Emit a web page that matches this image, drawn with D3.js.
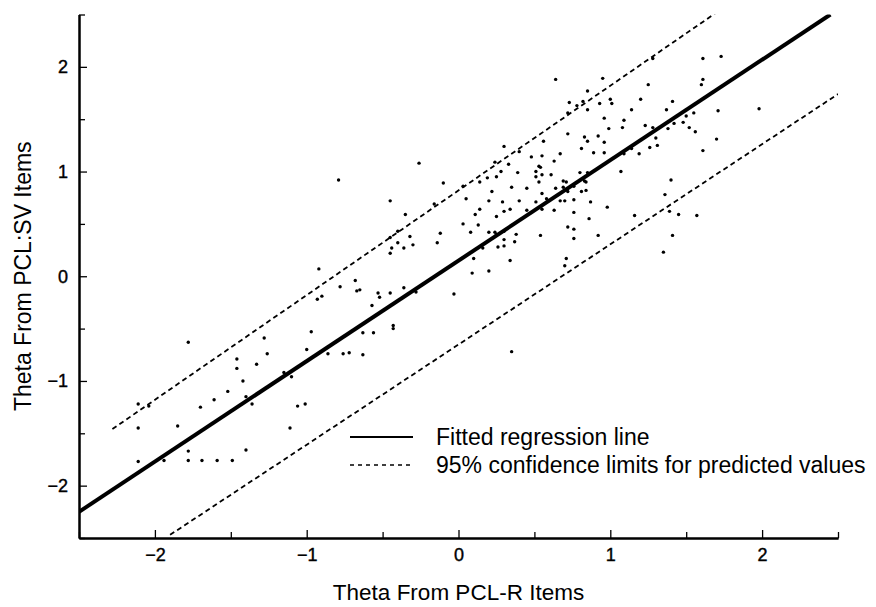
<!DOCTYPE html>
<html>
<head>
<meta charset="utf-8">
<script src="https://cdn.jsdelivr.net/npm/d3@7"></script>
<style>
  body { margin: 0; background: #fff; }
  svg text { font-family: "Liberation Sans", Arial, sans-serif; fill: #000; }
</style>
</head>
<body>
<div id="chart"></div>
<script>
// Scatter values (theta from PCL-R items, theta from PCL:SV items)
const thetaR = [
  -1.78,-1.28,-1.26,-1.46,-1.46,-1.33,-1.15,-1.10,-1.42,-1.52,-1.40,-1.61,-1.36,-1.70,-2.11,-2.04,-1.06,-1.01,-2.11,-1.85,
  -1.11,-1.78,-1.40,-2.11,-1.94,-1.78,-1.69,-1.59,-1.49,-0.57,-0.43,-0.43,-0.97,-0.63,-0.56,-1.00,-0.86,-0.76,-0.72,-0.63,
  0.35,-0.26,-0.79,-0.45,-0.35,-0.16,-0.40,-0.45,-0.32,-0.40,-0.44,-0.45,-0.36,-0.30,-0.14,-0.12,-0.92,-0.78,-0.68,-0.67,
  -0.65,-0.93,-0.90,-0.53,-0.52,-0.45,-0.36,-0.28,-0.03,0.64,0.85,0.73,0.78,0.82,0.85,0.72,0.72,0.83,0.85,0.81,
  0.30,0.40,0.56,0.48,0.55,0.67,0.63,0.24,0.33,0.28,0.39,0.53,0.54,0.51,0.55,0.51,0.61,0.14,0.19,0.25,
  0.03,-0.10,0.35,0.45,0.53,0.64,0.69,0.71,0.80,0.85,0.76,0.84,0.22,0.05,0.55,0.69,0.72,0.81,0.84,0.20,
  0.29,0.40,0.51,0.58,0.67,0.70,0.76,0.14,0.11,0.25,0.30,0.34,0.45,0.55,0.63,0.76,0.86,0.03,0.13,0.08,
  0.20,0.24,0.25,0.30,0.38,0.54,0.72,0.76,0.76,0.30,0.37,0.26,0.30,0.16,0.10,0.34,0.71,0.70,0.09,0.20,
  0.87,0.83,1.73,1.61,1.28,0.95,1.61,1.60,1.25,0.93,1.00,1.01,1.20,1.41,1.14,1.37,1.71,0.96,1.09,1.50,
  1.55,1.23,1.42,1.48,0.99,1.08,1.28,1.38,1.52,1.56,0.92,0.96,1.30,0.89,0.96,1.09,1.14,1.19,1.26,1.31,
  1.70,1.61,1.07,1.40,1.36,1.98,0.98,1.16,1.39,1.45,1.57,0.92,1.41,1.35
];
const thetaSV = [
  -0.63,-0.59,-0.74,-0.79,-0.88,-0.84,-0.92,-0.96,-1.00,-1.10,-1.15,-1.18,-1.22,-1.25,-1.22,-1.24,-1.24,-1.22,-1.45,-1.43,
  -1.45,-1.67,-1.66,-1.77,-1.76,-1.76,-1.76,-1.76,-1.76,-0.28,-0.47,-0.50,-0.53,-0.54,-0.54,-0.70,-0.74,-0.74,-0.73,-0.75,
  -0.72,1.08,0.92,0.72,0.59,0.69,0.43,0.37,0.38,0.32,0.27,0.22,0.27,0.30,0.32,0.41,0.07,-0.10,-0.04,-0.14,
  -0.13,-0.22,-0.19,-0.16,-0.20,-0.16,-0.11,-0.15,-0.17,1.88,1.77,1.66,1.63,1.67,1.59,1.56,1.36,1.33,1.29,1.22,
  1.24,1.19,1.29,1.14,1.15,1.17,1.10,1.09,1.07,1.00,0.99,1.05,1.04,1.00,0.97,0.95,0.97,0.90,0.94,0.95,
  0.86,0.89,0.85,0.84,0.90,0.84,0.91,0.90,0.99,0.99,0.86,0.90,0.81,0.74,0.79,0.85,0.81,0.81,0.82,0.72,
  0.71,0.72,0.71,0.74,0.72,0.72,0.73,0.64,0.59,0.57,0.62,0.64,0.63,0.64,0.63,0.61,0.55,0.50,0.49,0.42,
  0.42,0.42,0.40,0.43,0.40,0.39,0.47,0.45,0.36,0.35,0.33,0.28,0.29,0.27,0.17,0.15,0.17,0.10,0.03,0.05,
  0.71,0.91,2.10,2.08,2.08,1.89,1.88,1.83,1.83,1.65,1.69,1.65,1.69,1.67,1.59,1.59,1.58,1.51,1.49,1.53,
  1.56,1.44,1.46,1.47,1.41,1.42,1.42,1.41,1.42,1.38,1.34,1.28,1.32,1.18,1.18,1.17,1.22,1.17,1.23,1.25,
  1.31,1.20,1.00,0.92,0.78,1.60,0.66,0.58,0.62,0.59,0.58,0.39,0.39,0.23
];

// Fitted regression line and 95% limits (end points)
const fitLine = [[-2.5, -2.25], [2.45, 2.50]];
const upperLimit = [[-2.28, -1.46], [1.69, 2.51]];
const lowerLimit = [[-1.90, -2.47], [2.50, 1.74]];

const majorTicks = [-2, -1, 0, 1, 2];
const minorTicks = [-2.5, -1.5, -0.5, 0.5, 1.5, 2.5];

const legendItems = [
  { label: "Fitted regression line", dash: null },
  { label: "95% confidence limits for predicted values", dash: "4,4" }
];

const margin = { top: 14.5, right: 38, bottom: 69, left: 79 },
    width = 876 - margin.left - margin.right,
    height = 607 - margin.top - margin.bottom;

const svg = d3.select("#chart").append("svg")
    .attr("width", 876)
    .attr("height", 607)
    .append("g")
    .attr("transform", `translate(${margin.left},${margin.top})`);

const x = d3.scaleLinear().domain([-2.5, 2.5]).range([0, width]);
const y = d3.scaleLinear().domain([-2.5, 2.5]).range([height, 0]);

svg.append("clipPath").attr("id", "plot-clip")
    .append("rect").attr("width", width).attr("height", height);

const plot = svg.append("g").attr("clip-path", "url(#plot-clip)");

const line = d3.line().x(d => x(d[0])).y(d => y(d[1]));

// Confidence limits
[upperLimit, lowerLimit].forEach(seg => {
  plot.append("path")
      .datum(seg)
      .attr("d", line)
      .attr("fill", "none")
      .attr("stroke", "#000")
      .attr("stroke-width", 1.8)
      .attr("stroke-dasharray", "5,3.5");
});

// Regression line
plot.append("path")
    .datum(fitLine)
    .attr("d", line)
    .attr("fill", "none")
    .attr("stroke", "#000")
    .attr("stroke-width", 4);

// Points
const points = thetaR.map((v, i) => [v, thetaSV[i]]);
plot.selectAll("circle.pt")
    .data(points)
    .enter().append("circle")
    .attr("class", "pt")
    .attr("cx", d => x(d[0]))
    .attr("cy", d => y(d[1]))
    .attr("r", 1.7)
    .attr("fill", "#000");

// Axes: major ticks with labels, minor ticks without
function styleAxis(g) {
  g.selectAll(".domain").attr("stroke", "#000").attr("stroke-width", 2);
  g.selectAll(".tick line").attr("stroke", "#000").attr("stroke-width", 1.3);
  g.selectAll("text").style("font-size", "18px")
      .style("font-family", "'Liberation Sans', Arial, sans-serif")
      .attr("stroke", "#000").attr("stroke-width", 0.4);
}

svg.append("g")
    .attr("transform", `translate(0,${height})`)
    .call(d3.axisBottom(x).tickValues(majorTicks).tickFormat(d3.format("d"))
        .tickSizeInner(-8).tickSizeOuter(0).tickPadding(10))
    .call(styleAxis);

svg.append("g")
    .attr("transform", `translate(0,${height})`)
    .call(d3.axisBottom(x).tickValues(minorTicks).tickFormat("")
        .tickSizeInner(-6).tickSizeOuter(0))
    .call(styleAxis);

svg.append("g")
    .call(d3.axisLeft(y).tickValues(majorTicks).tickFormat(d3.format("d"))
        .tickSizeInner(-8).tickSizeOuter(0).tickPadding(11))
    .call(styleAxis);

svg.append("g")
    .call(d3.axisLeft(y).tickValues(minorTicks).tickFormat("")
        .tickSizeInner(-6).tickSizeOuter(0))
    .call(styleAxis);

// Axis titles
svg.append("text")
    .attr("x", width / 2)
    .attr("y", height + 62)
    .attr("text-anchor", "middle")
    .style("font-size", "22.5px")
    .text("Theta From PCL-R Items");

svg.append("text")
    .attr("transform", "rotate(-90)")
    .attr("x", -height / 2)
    .attr("y", 31 - margin.left)
    .attr("text-anchor", "middle")
    .style("font-size", "23px")
    .text("Theta From PCL:SV Items");

// Legend
const legend = svg.append("g")
    .attr("transform", `translate(${350 - margin.left},${437 - margin.top})`);

legendItems.forEach((item, i) => {
  const row = legend.append("g").attr("transform", `translate(0,${i * 28})`);
  row.append("line")
      .attr("x1", 0).attr("x2", 63)
      .attr("y1", 0).attr("y2", 0)
      .attr("stroke", "#000")
      .attr("stroke-width", item.dash ? 1.5 : 2)
      .attr("stroke-dasharray", item.dash);
  row.append("text")
      .attr("x", 86)
      .attr("y", 7.5)
      .style("font-size", "23px")
      .text(item.label);
});
</script>
</body>
</html>
